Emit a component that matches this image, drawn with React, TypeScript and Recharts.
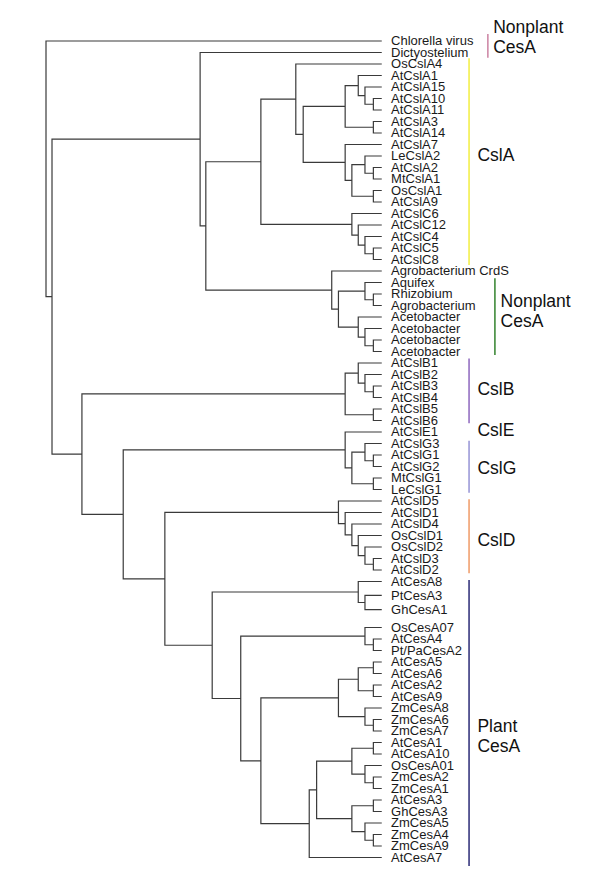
import React from 'react';
import { ComposedChart, Line, Scatter, XAxis, YAxis, ReferenceLine } from 'recharts';

// leaf labels, top to bottom
const leafNames = [
  'Chlorella virus', 'Dictyostelium', 'OsCslA4', 'AtCslA1', 'AtCslA15', 'AtCslA10', 'AtCslA11',
  'AtCslA3', 'AtCslA14', 'AtCslA7', 'LeCslA2', 'AtCslA2', 'MtCslA1', 'OsCslA1', 'AtCslA9',
  'AtCslC6', 'AtCslC12', 'AtCslC4', 'AtCslC5', 'AtCslC8', 'Agrobacterium CrdS', 'Aquifex',
  'Rhizobium', 'Agrobacterium', 'Acetobacter', 'Acetobacter', 'Acetobacter', 'Acetobacter',
  'AtCslB1', 'AtCslB2', 'AtCslB3', 'AtCslB4', 'AtCslB5', 'AtCslB6', 'AtCslE1', 'AtCslG3',
  'AtCslG1', 'AtCslG2', 'MtCslG1', 'LeCslG1', 'AtCslD5', 'AtCslD1', 'AtCslD4', 'OsCslD1',
  'OsCslD2', 'AtCslD3', 'AtCslD2', 'AtCesA8', 'PtCesA3', 'GhCesA1', 'OsCesA07', 'AtCesA4',
  'Pt/PaCesA2', 'AtCesA5', 'AtCesA6', 'AtCesA2', 'AtCesA9', 'ZmCesA8', 'ZmCesA6', 'ZmCesA7',
  'AtCesA1', 'AtCesA10', 'OsCesA01', 'ZmCesA2', 'ZmCesA1', 'AtCesA3', 'GhCesA3', 'ZmCesA5',
  'ZmCesA4', 'ZmCesA9', 'AtCesA7',
];

// vertical slot of each leaf (the CesA8 group is spread a little)
const leafRows = [
  0, 1, 2, 3, 4, 5, 6, 7, 8, 9, 10, 11, 12, 13, 14, 15, 16, 17, 18, 19, 20, 21, 22, 23, 24,
  25, 26, 27, 28, 29, 30, 31, 32, 33, 34, 35, 36, 37, 38, 39, 40, 41, 42, 43, 44, 45, 46, 47,
  48.2, 49.45,
  51, 52, 53, 54, 55, 56, 57, 58, 59, 60, 61, 62, 63, 64, 65, 66, 67, 68, 69, 70, 71,
];

const TIP = 100;

// [id, depth from root, child, child] - numbers are leaf indices
const clades: [string, number, number | string, number | string][] = [
  ['a10_11', 97.5, 5, 6],
  ['a15', 95.0, 4, 'a10_11'],
  ['a1', 93.0, 3, 'a15'],
  ['a3_14', 97.5, 7, 8],
  ['aTop', 89.1, 'a1', 'a3_14'],
  ['a2_mt', 97.5, 11, 12],
  ['le', 95.0, 10, 'a2_mt'],
  ['os_a9', 97.5, 13, 14],
  ['a2grp', 91.1, 'le', 'os_a9'],
  ['a7', 89.1, 9, 'a2grp'],
  ['aMain', 76.6, 'aTop', 'a7'],
  ['cslA', 74.4, 2, 'aMain'],
  ['c5_8', 97.5, 18, 19],
  ['c4', 95.0, 17, 'c5_8'],
  ['c12', 93.0, 16, 'c4'],
  ['cslC', 91.1, 15, 'c12'],
  ['cslAC', 64.0, 'cslA', 'cslC'],
  ['rh_ag', 97.5, 22, 23],
  ['aq', 95.0, 21, 'rh_ag'],
  ['ac34', 97.5, 26, 27],
  ['ac2', 95.0, 25, 'ac34'],
  ['ac1', 93.0, 24, 'ac2'],
  ['bact', 87.1, 'aq', 'ac1'],
  ['bactAll', 85.1, 20, 'bact'],
  ['acBact', 47.6, 'cslAC', 'bactAll'],
  ['dicty', 45.9, 1, 'acBact'],
  ['b3_4', 97.5, 30, 31],
  ['b2', 95.0, 29, 'b3_4'],
  ['b1', 93.0, 28, 'b2'],
  ['b5_6', 97.5, 32, 33],
  ['cslB', 89.1, 'b1', 'b5_6'],
  ['g1_2', 97.5, 36, 37],
  ['g3', 95.0, 35, 'g1_2'],
  ['mt_le', 97.5, 38, 39],
  ['cslG', 91.1, 'g3', 'mt_le'],
  ['cslEG', 89.1, 34, 'cslG'],
  ['d3_2', 97.5, 45, 46],
  ['osd2', 95.0, 44, 'd3_2'],
  ['osd1', 93.0, 43, 'osd2'],
  ['d4', 91.1, 42, 'osd1'],
  ['d1', 89.1, 41, 'd4'],
  ['cslD', 87.1, 40, 'd1'],
  ['pt_gh', 95.0, 48, 49],
  ['ces8', 93.0, 47, 'pt_gh'],
  ['a4_pa', 97.5, 51, 52],
  ['os07', 95.0, 50, 'a4_pa'],
  ['a5_6', 97.5, 53, 54],
  ['a2_9', 97.5, 55, 56],
  ['a5692', 93.0, 'a5_6', 'a2_9'],
  ['zm6_7', 97.5, 58, 59],
  ['zm8', 95.0, 57, 'zm6_7'],
  ['sec', 87.1, 'a5692', 'zm8'],
  ['a1_10', 97.5, 60, 61],
  ['zm2_1', 97.5, 63, 64],
  ['os01', 95.0, 62, 'zm2_1'],
  ['pri1', 91.1, 'a1_10', 'os01'],
  ['a3_gh3', 97.5, 65, 66],
  ['zm4_9', 97.5, 68, 69],
  ['zm5', 95.0, 67, 'zm4_9'],
  ['pri3', 91.1, 'a3_gh3', 'zm5'],
  ['pri', 80.6, 'pri1', 'pri3'],
  ['a7c', 78.4, 'pri', 70],
  ['priSec', 64.0, 'sec', 'a7c'],
  ['ces4', 58.0, 'os07', 'priSec'],
  ['cesA', 49.5, 'ces8', 'ces4'],
  ['dCes', 35.4, 'cslD', 'cesA'],
  ['egDCes', 23.0, 'cslEG', 'dCes'],
  ['bRest', 10.7, 'cslB', 'egDCes'],
  ['inner', 1.79, 'dicty', 'bRest'],
  ['root', 0, 0, 'inner'],
];

// coloured family bars on the right
const barColors = ['#cf8aa8', '#f3ef4c', '#3f8a3a', '#9470c2', '#9c9ad8', '#f0a070', '#38387e'];
const barColumns = [131.6, 126.0, 133.7, 126.0, 126.0, 126.0, 126.0];
const barStarts = [-0.61, 1.5, 20.63, 27.6, 34.76, 39.85, 46.87];
const barEnds = [1.45, 19.48, 27.3, 33.24, 39.28, 46.29, 71.74];

// family names
const groupLabels = [
  ['Nonplant', 'CesA'], ['CslA'], ['Nonplant', 'CesA'], ['CslB'], ['CslE'], ['CslG'], ['CslD'],
  ['Plant', 'CesA'],
];
const labelColumns = [133.2, 128.5, 135.4, 128.5, 128.5, 128.5, 128.5, 128.5];
const labelRows = [-1.24, 9.9, 22.6, 30.2, 33.83, 37.1, 43.4, 59.55];

// build bracket paths from the clade list
const placed = new Map<string, { x: number; y: number }>();
const where = (ref: number | string) =>
  typeof ref === 'number' ? { x: TIP, y: leafRows[ref] } : placed.get(ref)!;

const treePath: { x: number; y: number | null }[] = [];
clades.forEach(([id, depth, a, b]) => {
  const p = where(a);
  const q = where(b);
  placed.set(id, { x: depth, y: (p.y + q.y) / 2 });
  treePath.push(
    { x: p.x, y: p.y },
    { x: depth, y: p.y },
    { x: depth, y: q.y },
    { x: q.x, y: q.y },
    { x: depth, y: null },
  );
});

const leafPoints = leafNames.map((name, i) => ({ x: TIP, y: leafRows[i], name }));
const labelPoints = groupLabels.map((lines, i) => ({ x: labelColumns[i], y: labelRows[i], lines }));

const font = '"Liberation Sans", Arial, sans-serif';

const LeafLabel = (props: any) => {
  const { cx, cy, payload } = props;
  return (
    <text x={cx + 9.3} y={cy + 4.4} fontSize={13} fontFamily={font} fill="#1a1a1a">
      {payload?.name}
    </text>
  );
};

const GroupLabel = (props: any) => {
  const { cx, cy, payload } = props;
  const lines: string[] = payload?.lines ?? [];
  return (
    <text x={cx} y={cy + 6.2} fontSize={17.5} fontFamily={font} fill="#111">
      {lines.map((t, i) => (
        <tspan key={i} x={cx} dy={i === 0 ? 0 : 20}>
          {t}
        </tspan>
      ))}
    </text>
  );
};

export default function App() {
  return (
    <div style={{ position: 'absolute', left: 0, top: 0, width: 600, height: 882, background: '#fff' }}>
      <ComposedChart width={600} height={882} data={treePath} margin={{ top: 0, right: 0, bottom: 0, left: 0 }}>
        <XAxis type="number" dataKey="x" domain={[-13.7, 165]} hide allowDataOverflow />
        <YAxis type="number" dataKey="y" domain={[-3.565, 73.13]} reversed hide allowDataOverflow />
        <Line
          type="linear"
          dataKey="y"
          stroke="#3a3a3a"
          strokeWidth={1.2}
          dot={false}
          activeDot={false}
          connectNulls={false}
          isAnimationActive={false}
        />
        {barColors.map((c, i) => (
          <ReferenceLine
            key={i}
            segment={[
              { x: barColumns[i], y: barStarts[i] },
              { x: barColumns[i], y: barEnds[i] },
            ]}
            stroke={c}
            strokeWidth={1.6}
          />
        ))}
        <Scatter data={leafPoints} shape={LeafLabel} isAnimationActive={false} />
        <Scatter data={labelPoints} shape={GroupLabel} isAnimationActive={false} />
      </ComposedChart>
    </div>
  );
}
